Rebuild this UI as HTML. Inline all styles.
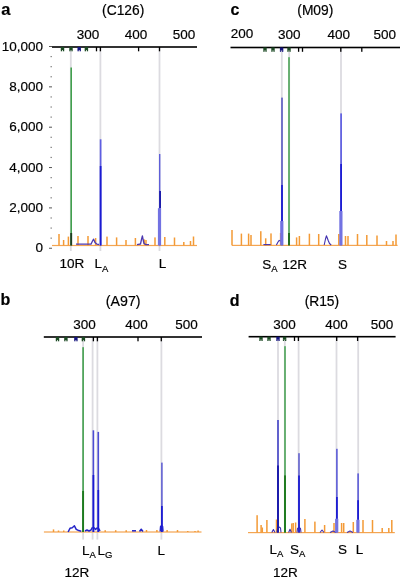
<!DOCTYPE html>
<html><head><meta charset="utf-8"><style>
html,body{margin:0;padding:0;background:#fff;}
svg{display:block;font-family:"Liberation Sans", sans-serif;filter:blur(0.3px);}
text{stroke:#000;stroke-width:0.18px;}
</style></head><body>
<svg width="400" height="580" viewBox="0 0 400 580">
<rect width="400" height="580" fill="#fff"/>
<text x="43.00" y="50.60" font-size="13.5" text-anchor="end">10,000</text>
<rect x="49.00" y="46.00" width="3.00" height="1.00" fill="#555"/>
<text x="43.00" y="90.95" font-size="13.5" text-anchor="end">8,000</text>
<rect x="49.00" y="86.35" width="3.00" height="1.00" fill="#555"/>
<text x="43.00" y="131.30" font-size="13.5" text-anchor="end">6,000</text>
<rect x="49.00" y="126.70" width="3.00" height="1.00" fill="#555"/>
<text x="43.00" y="171.65" font-size="13.5" text-anchor="end">4,000</text>
<rect x="49.00" y="167.05" width="3.00" height="1.00" fill="#555"/>
<text x="43.00" y="212.00" font-size="13.5" text-anchor="end">2,000</text>
<rect x="49.00" y="207.40" width="3.00" height="1.00" fill="#555"/>
<text x="43.00" y="252.35" font-size="13.5" text-anchor="end">0</text>
<rect x="49.00" y="247.75" width="3.00" height="1.00" fill="#555"/>
<rect x="50.60" y="55.99" width="1.10" height="1.20" fill="#606060"/>
<rect x="50.60" y="66.08" width="1.10" height="1.20" fill="#606060"/>
<rect x="50.60" y="76.16" width="1.10" height="1.20" fill="#606060"/>
<rect x="50.60" y="96.34" width="1.10" height="1.20" fill="#606060"/>
<rect x="50.60" y="106.43" width="1.10" height="1.20" fill="#606060"/>
<rect x="50.60" y="116.51" width="1.10" height="1.20" fill="#606060"/>
<rect x="50.60" y="136.69" width="1.10" height="1.20" fill="#606060"/>
<rect x="50.60" y="146.78" width="1.10" height="1.20" fill="#606060"/>
<rect x="50.60" y="156.86" width="1.10" height="1.20" fill="#606060"/>
<rect x="50.60" y="177.04" width="1.10" height="1.20" fill="#606060"/>
<rect x="50.60" y="187.12" width="1.10" height="1.20" fill="#606060"/>
<rect x="50.60" y="197.21" width="1.10" height="1.20" fill="#606060"/>
<rect x="50.60" y="217.39" width="1.10" height="1.20" fill="#606060"/>
<rect x="50.60" y="227.48" width="1.10" height="1.20" fill="#606060"/>
<rect x="50.60" y="237.56" width="1.10" height="1.20" fill="#606060"/>
<rect x="69.90" y="47.00" width="1.80" height="204.00" fill="#dcdbe0"/>
<rect x="99.50" y="47.00" width="1.80" height="204.00" fill="#dcdbe0"/>
<rect x="158.60" y="47.00" width="1.80" height="204.00" fill="#dcdbe0"/>
<rect x="52.00" y="244.90" width="145.00" height="1.20" fill="#f4a552"/>
<rect x="58.25" y="234.00" width="1.50" height="11.50" fill="#f39a36"/>
<rect x="62.85" y="240.00" width="1.50" height="5.50" fill="#f39a36"/>
<rect x="67.65" y="236.60" width="1.50" height="8.90" fill="#f39a36"/>
<rect x="77.25" y="236.00" width="1.50" height="9.50" fill="#f39a36"/>
<rect x="87.25" y="236.00" width="1.50" height="9.50" fill="#f39a36"/>
<rect x="94.85" y="238.00" width="1.50" height="7.50" fill="#f39a36"/>
<rect x="106.25" y="236.60" width="1.50" height="8.90" fill="#f39a36"/>
<rect x="115.85" y="237.40" width="1.50" height="8.10" fill="#f39a36"/>
<rect x="125.25" y="240.00" width="1.50" height="5.50" fill="#f39a36"/>
<rect x="134.65" y="238.00" width="1.50" height="7.50" fill="#f39a36"/>
<rect x="143.65" y="239.40" width="1.50" height="6.10" fill="#f39a36"/>
<rect x="145.25" y="240.00" width="1.50" height="5.50" fill="#f39a36"/>
<rect x="154.25" y="237.40" width="1.50" height="8.10" fill="#f39a36"/>
<rect x="164.05" y="237.00" width="1.50" height="8.50" fill="#f39a36"/>
<rect x="173.75" y="237.50" width="1.50" height="8.00" fill="#f39a36"/>
<rect x="183.05" y="242.00" width="1.50" height="3.50" fill="#f39a36"/>
<rect x="189.75" y="241.00" width="1.50" height="4.50" fill="#f39a36"/>
<rect x="192.75" y="236.50" width="1.50" height="9.00" fill="#f39a36"/>
<path d="M76 244.2 L91 244.2 L92.5 241 L93.6 239.2 L95 242.5 L97 244.2 L99 244.5" stroke="#4c38b0" stroke-width="1.3" fill="none" stroke-linejoin="round"/>
<path d="M137 244.6 L140.5 244 L141.6 239 L142.4 235.8 L143.2 240 L144 243.5 L146 244.6 L149 244.6" stroke="#4c38b0" stroke-width="1.3" fill="none" stroke-linejoin="round"/>
<rect x="70.40" y="67.50" width="1.60" height="178.00" fill="#42a04e"/>
<rect x="70.25" y="233.00" width="1.90" height="12.50" fill="#1e3e20"/>
<rect x="99.75" y="139.30" width="1.70" height="106.20" fill="#5e5ee2"/>
<rect x="99.75" y="166.00" width="1.70" height="79.50" fill="#1a1ad2"/>
<rect x="159.00" y="154.00" width="1.40" height="91.50" fill="#5e5ed8"/>
<rect x="159.25" y="191.00" width="1.70" height="17.20" fill="#1414a8"/>
<rect x="157.90" y="208.20" width="3.20" height="37.30" fill="#7272e2"/>
<rect x="52.00" y="46.20" width="145.00" height="1.60" fill="#000"/>
<rect x="95.85" y="47.00" width="1.30" height="4.30" fill="#000"/>
<rect x="99.75" y="47.00" width="1.30" height="4.30" fill="#000"/>
<rect x="137.95" y="47.00" width="1.30" height="4.30" fill="#000"/>
<rect x="158.85" y="47.00" width="1.30" height="4.30" fill="#000"/>
<rect x="60.80" y="47.00" width="3.40" height="3.00" fill="#1c4a24"/>
<rect x="60.80" y="49.80" width="1.30" height="1.50" fill="#1c4a24"/>
<rect x="62.90" y="49.80" width="1.30" height="1.50" fill="#1c4a24"/>
<rect x="69.30" y="47.00" width="3.40" height="3.00" fill="#1c4a24"/>
<rect x="69.30" y="49.80" width="1.30" height="1.50" fill="#1c4a24"/>
<rect x="71.40" y="49.80" width="1.30" height="1.50" fill="#1c4a24"/>
<rect x="77.50" y="47.00" width="3.40" height="3.00" fill="#14147e"/>
<rect x="77.50" y="49.80" width="1.30" height="1.50" fill="#14147e"/>
<rect x="79.60" y="49.80" width="1.30" height="1.50" fill="#14147e"/>
<rect x="84.70" y="47.00" width="3.40" height="3.00" fill="#1c4a24"/>
<rect x="84.70" y="49.80" width="1.30" height="1.50" fill="#1c4a24"/>
<rect x="86.80" y="49.80" width="1.30" height="1.50" fill="#1c4a24"/>
<text x="1.20" y="14.60" font-size="16.5" font-weight="bold">a</text>
<text x="123.20" y="15.00" font-size="13.8" text-anchor="middle">(C126)</text>
<text x="87.90" y="38.80" font-size="13.5" text-anchor="middle">300</text>
<text x="136.00" y="38.80" font-size="13.5" text-anchor="middle">400</text>
<text x="184.00" y="38.80" font-size="13.5" text-anchor="middle">500</text>
<text x="59.50" y="268.30" font-size="13.5">10R</text>
<text x="94.40" y="268.30" font-size="13.5">L<tspan font-size="9.5" dy="3.2">A</tspan></text>
<text x="158.70" y="268.30" font-size="13.5">L</text>
<rect x="280.90" y="47.50" width="1.80" height="197.90" fill="#dcdbe0"/>
<rect x="288.30" y="47.50" width="1.80" height="197.90" fill="#dcdbe0"/>
<rect x="340.10" y="47.50" width="1.80" height="197.90" fill="#dcdbe0"/>
<rect x="232.00" y="244.80" width="165.60" height="1.20" fill="#f4a552"/>
<rect x="231.25" y="230.00" width="1.50" height="15.40" fill="#f39a36"/>
<rect x="240.65" y="233.60" width="1.50" height="11.80" fill="#f39a36"/>
<rect x="247.85" y="233.60" width="1.50" height="11.80" fill="#f39a36"/>
<rect x="250.25" y="235.00" width="1.50" height="10.40" fill="#f39a36"/>
<rect x="260.05" y="231.20" width="1.50" height="14.20" fill="#f39a36"/>
<rect x="264.95" y="238.30" width="1.50" height="7.10" fill="#f39a36"/>
<rect x="270.25" y="233.40" width="1.50" height="12.00" fill="#f39a36"/>
<rect x="279.85" y="233.00" width="1.50" height="12.40" fill="#f39a36"/>
<rect x="295.85" y="237.40" width="1.50" height="8.00" fill="#f39a36"/>
<rect x="298.65" y="236.00" width="1.50" height="9.40" fill="#f39a36"/>
<rect x="308.65" y="233.70" width="1.50" height="11.70" fill="#f39a36"/>
<rect x="317.95" y="234.00" width="1.50" height="11.40" fill="#f39a36"/>
<rect x="338.05" y="234.00" width="1.50" height="11.40" fill="#f39a36"/>
<rect x="344.75" y="236.00" width="1.50" height="9.40" fill="#f39a36"/>
<rect x="347.25" y="236.00" width="1.50" height="9.40" fill="#f39a36"/>
<rect x="356.75" y="234.00" width="1.50" height="11.40" fill="#f39a36"/>
<rect x="366.05" y="235.00" width="1.50" height="10.40" fill="#f39a36"/>
<rect x="376.25" y="235.50" width="1.50" height="9.90" fill="#f39a36"/>
<rect x="385.75" y="241.00" width="1.50" height="4.40" fill="#f39a36"/>
<rect x="392.25" y="241.00" width="1.50" height="4.40" fill="#f39a36"/>
<rect x="395.25" y="234.50" width="1.50" height="10.90" fill="#f39a36"/>
<path d="M263.4 244.6 L270.7 244.6" stroke="#4030b0" stroke-width="1.1" fill="none" stroke-linejoin="round"/>
<path d="M276.4 245 L278 242 L279.2 240.4 L281 241" stroke="#4030b0" stroke-width="1.1" fill="none" stroke-linejoin="round"/>
<path d="M324.2 245 L325.5 239 L326.4 235.8 L327.3 238 L328.1 240.3 L329.5 243.5 L331.2 245" stroke="#4030b0" stroke-width="1.1" fill="none" stroke-linejoin="round"/>
<rect x="288.25" y="57.20" width="1.50" height="188.20" fill="#42a04e"/>
<rect x="288.05" y="233.00" width="1.90" height="12.40" fill="#1e6a1e"/>
<rect x="281.25" y="97.60" width="1.50" height="147.80" fill="#5050c0"/>
<rect x="281.15" y="185.00" width="1.70" height="36.00" fill="#1a1ad2"/>
<rect x="280.20" y="221.00" width="3.20" height="24.40" fill="#7272e2"/>
<rect x="340.25" y="113.40" width="1.70" height="132.00" fill="#5e5ee2"/>
<rect x="340.25" y="164.00" width="1.70" height="47.00" fill="#1a1ad2"/>
<rect x="339.30" y="211.00" width="3.20" height="34.40" fill="#7272e2"/>
<rect x="230.50" y="46.70" width="169.50" height="1.60" fill="#000"/>
<rect x="297.95" y="47.50" width="1.30" height="4.30" fill="#000"/>
<rect x="301.85" y="47.50" width="1.30" height="4.30" fill="#000"/>
<rect x="340.15" y="47.50" width="1.30" height="4.30" fill="#000"/>
<rect x="361.15" y="47.50" width="1.30" height="4.30" fill="#000"/>
<rect x="263.30" y="47.50" width="3.40" height="3.00" fill="#1c4a24"/>
<rect x="263.30" y="50.30" width="1.30" height="1.50" fill="#1c4a24"/>
<rect x="265.40" y="50.30" width="1.30" height="1.50" fill="#1c4a24"/>
<rect x="271.30" y="47.50" width="3.40" height="3.00" fill="#1c4a24"/>
<rect x="271.30" y="50.30" width="1.30" height="1.50" fill="#1c4a24"/>
<rect x="273.40" y="50.30" width="1.30" height="1.50" fill="#1c4a24"/>
<rect x="279.90" y="47.50" width="3.40" height="3.00" fill="#14147e"/>
<rect x="279.90" y="50.30" width="1.30" height="1.50" fill="#14147e"/>
<rect x="282.00" y="50.30" width="1.30" height="1.50" fill="#14147e"/>
<rect x="287.30" y="47.50" width="3.40" height="3.00" fill="#1c4a24"/>
<rect x="287.30" y="50.30" width="1.30" height="1.50" fill="#1c4a24"/>
<rect x="289.40" y="50.30" width="1.30" height="1.50" fill="#1c4a24"/>
<text x="230.60" y="14.60" font-size="16" font-weight="bold">c</text>
<text x="315.30" y="15.00" font-size="13.8" text-anchor="middle">(M09)</text>
<text x="242.00" y="38.30" font-size="13.5" text-anchor="middle">200</text>
<text x="289.20" y="38.80" font-size="13.5" text-anchor="middle">300</text>
<text x="338.80" y="38.80" font-size="13.5" text-anchor="middle">400</text>
<text x="384.80" y="38.80" font-size="13.5" text-anchor="middle">500</text>
<text x="262.20" y="269.10" font-size="13.5">S<tspan font-size="9.5" dy="2.8">A</tspan></text>
<text x="282.20" y="269.10" font-size="13.5">12R</text>
<text x="338.00" y="269.10" font-size="13.5">S</text>
<rect x="82.20" y="337.00" width="1.80" height="202.60" fill="#dcdbe0"/>
<rect x="91.70" y="337.00" width="1.80" height="202.60" fill="#dcdbe0"/>
<rect x="96.50" y="337.00" width="1.80" height="202.60" fill="#dcdbe0"/>
<rect x="160.50" y="337.00" width="1.80" height="202.60" fill="#dcdbe0"/>
<rect x="43.90" y="531.40" width="157.60" height="1.20" fill="#f4a552"/>
<rect x="52.75" y="529.40" width="1.50" height="2.60" fill="#f39a36"/>
<rect x="57.75" y="530.50" width="1.50" height="1.50" fill="#f39a36"/>
<rect x="63.00" y="530.50" width="1.50" height="1.50" fill="#f39a36"/>
<rect x="104.45" y="530.20" width="1.50" height="1.80" fill="#f39a36"/>
<rect x="114.95" y="530.20" width="1.50" height="1.80" fill="#f39a36"/>
<rect x="125.45" y="530.20" width="1.50" height="1.80" fill="#f39a36"/>
<rect x="145.75" y="530.00" width="1.50" height="2.00" fill="#f39a36"/>
<rect x="156.15" y="530.00" width="1.50" height="2.00" fill="#f39a36"/>
<rect x="166.35" y="530.00" width="1.50" height="2.00" fill="#f39a36"/>
<rect x="176.75" y="530.00" width="1.50" height="2.00" fill="#f39a36"/>
<rect x="187.00" y="531.00" width="1.50" height="1.00" fill="#f39a36"/>
<rect x="194.25" y="531.00" width="1.50" height="1.00" fill="#f39a36"/>
<rect x="197.35" y="530.50" width="1.50" height="1.50" fill="#f39a36"/>
<path d="M68.1 532 L70 528.3 L72.25 527.7 L74.4 525.8 L76.25 529.4 L78.75 530.6 L81.25 531.2" stroke="#2424c8" stroke-width="1.5" fill="none" stroke-linejoin="round"/>
<path d="M85 531 L87 530 L89 531 L91 530 L92 528 L93 527.5" stroke="#2424c8" stroke-width="1.5" fill="none" stroke-linejoin="round"/>
<path d="M94 527.5 L95.5 529.5 L97 528 L99 529 L100 531" stroke="#2424c8" stroke-width="1.5" fill="none" stroke-linejoin="round"/>
<path d="M132 530.8 L136 530.8" stroke="#2424c8" stroke-width="1.5" fill="none" stroke-linejoin="round"/>
<path d="M139.5 531.5 L141.2 529.2 L143 531.5" stroke="#2424c8" stroke-width="1.5" fill="none" stroke-linejoin="round"/>
<path d="M160.2 531.5 L160.6 526.5 L161.6 525.6 L162.6 526.5 L163 531.5" stroke="#2424c8" stroke-width="1.5" fill="none" stroke-linejoin="round"/>
<rect x="82.30" y="347.20" width="1.60" height="184.80" fill="#42a04e"/>
<rect x="82.15" y="491.00" width="1.90" height="41.00" fill="#1e7a1e"/>
<rect x="92.60" y="430.30" width="1.60" height="101.70" fill="#4c4cd4"/>
<rect x="92.55" y="475.00" width="1.70" height="57.00" fill="#1a1ad2"/>
<rect x="97.50" y="431.90" width="1.60" height="100.10" fill="#4c4cd4"/>
<rect x="97.45" y="490.00" width="1.70" height="42.00" fill="#1a1ad2"/>
<rect x="161.15" y="462.60" width="1.50" height="69.40" fill="#5a5ad2"/>
<rect x="161.05" y="506.00" width="1.70" height="26.00" fill="#1a1ad2"/>
<rect x="43.80" y="336.20" width="158.20" height="1.60" fill="#000"/>
<rect x="92.75" y="337.00" width="1.30" height="4.30" fill="#000"/>
<rect x="96.75" y="337.00" width="1.30" height="4.30" fill="#000"/>
<rect x="137.35" y="337.00" width="1.30" height="4.30" fill="#000"/>
<rect x="160.65" y="337.00" width="1.30" height="4.30" fill="#000"/>
<rect x="55.80" y="337.00" width="3.40" height="3.00" fill="#1c4a24"/>
<rect x="55.80" y="339.80" width="1.30" height="1.50" fill="#1c4a24"/>
<rect x="57.90" y="339.80" width="1.30" height="1.50" fill="#1c4a24"/>
<rect x="64.20" y="337.00" width="3.40" height="3.00" fill="#1c4a24"/>
<rect x="64.20" y="339.80" width="1.30" height="1.50" fill="#1c4a24"/>
<rect x="66.30" y="339.80" width="1.30" height="1.50" fill="#1c4a24"/>
<rect x="74.20" y="337.00" width="3.40" height="3.00" fill="#14147e"/>
<rect x="74.20" y="339.80" width="1.30" height="1.50" fill="#14147e"/>
<rect x="76.30" y="339.80" width="1.30" height="1.50" fill="#14147e"/>
<rect x="81.70" y="337.00" width="3.40" height="3.00" fill="#1c4a24"/>
<rect x="81.70" y="339.80" width="1.30" height="1.50" fill="#1c4a24"/>
<rect x="83.80" y="339.80" width="1.30" height="1.50" fill="#1c4a24"/>
<text x="0.40" y="305.20" font-size="16" font-weight="bold">b</text>
<text x="123.20" y="305.60" font-size="14.2" text-anchor="middle">(A97)</text>
<text x="84.50" y="329.20" font-size="13.5" text-anchor="middle">300</text>
<text x="136.50" y="329.20" font-size="13.5" text-anchor="middle">400</text>
<text x="186.50" y="329.20" font-size="13.5" text-anchor="middle">500</text>
<text x="81.90" y="555.00" font-size="13.5">L<tspan font-size="9.5" dy="3.2">A</tspan></text>
<text x="97.40" y="555.00" font-size="13.5">L<tspan font-size="9.5" dy="3.2">G</tspan></text>
<text x="157.50" y="555.00" font-size="13.5">L</text>
<text x="64.50" y="577.00" font-size="13.5">12R</text>
<rect x="277.10" y="336.70" width="1.80" height="195.90" fill="#dcdbe0"/>
<rect x="283.90" y="336.70" width="1.80" height="195.90" fill="#dcdbe0"/>
<rect x="297.70" y="336.70" width="1.80" height="195.90" fill="#dcdbe0"/>
<rect x="335.60" y="336.70" width="1.80" height="195.90" fill="#dcdbe0"/>
<rect x="357.30" y="336.70" width="1.80" height="195.90" fill="#dcdbe0"/>
<rect x="248.00" y="532.00" width="146.80" height="1.20" fill="#f4a552"/>
<rect x="256.35" y="515.20" width="1.50" height="17.40" fill="#f39a36"/>
<rect x="260.35" y="525.00" width="1.50" height="7.60" fill="#f39a36"/>
<rect x="261.55" y="527.50" width="1.50" height="5.10" fill="#f39a36"/>
<rect x="266.15" y="520.00" width="1.50" height="12.60" fill="#f39a36"/>
<rect x="275.75" y="519.50" width="1.50" height="13.10" fill="#f39a36"/>
<rect x="291.05" y="523.40" width="1.50" height="9.20" fill="#f39a36"/>
<rect x="292.45" y="523.00" width="1.50" height="9.60" fill="#f39a36"/>
<rect x="294.85" y="522.50" width="1.50" height="10.10" fill="#f39a36"/>
<rect x="304.15" y="519.00" width="1.50" height="13.60" fill="#f39a36"/>
<rect x="314.15" y="521.60" width="1.50" height="11.00" fill="#f39a36"/>
<rect x="323.85" y="525.00" width="1.50" height="7.60" fill="#f39a36"/>
<rect x="333.25" y="523.00" width="1.50" height="9.60" fill="#f39a36"/>
<rect x="340.85" y="523.00" width="1.50" height="9.60" fill="#f39a36"/>
<rect x="342.95" y="523.00" width="1.50" height="9.60" fill="#f39a36"/>
<rect x="352.55" y="522.00" width="1.50" height="10.60" fill="#f39a36"/>
<rect x="362.25" y="520.00" width="1.50" height="12.60" fill="#f39a36"/>
<rect x="371.75" y="520.00" width="1.50" height="12.60" fill="#f39a36"/>
<rect x="381.45" y="528.00" width="1.50" height="4.60" fill="#f39a36"/>
<rect x="388.05" y="528.00" width="1.50" height="4.60" fill="#f39a36"/>
<rect x="391.05" y="520.00" width="1.50" height="12.60" fill="#f39a36"/>
<path d="M271.8 532.5 L273.4 529.6 L275 532.5" stroke="#4030b0" stroke-width="1.1" fill="none" stroke-linejoin="round"/>
<path d="M288.6 532.5 L290 529.2 L291.4 532.5" stroke="#4030b0" stroke-width="1.1" fill="none" stroke-linejoin="round"/>
<path d="M277 532.5 L277.5 528 L279 527 L280.5 528 L281 532.5" stroke="#4030b0" stroke-width="1.1" fill="none" stroke-linejoin="round"/>
<path d="M297 532.5 L297.5 528.5 L299 527.5 L300.5 528.5 L301 532.5" stroke="#4030b0" stroke-width="1.1" fill="none" stroke-linejoin="round"/>
<path d="M320 532.5 L322 530 L324 532.5" stroke="#4030b0" stroke-width="1.1" fill="none" stroke-linejoin="round"/>
<path d="M330 532.5 L333 531 L336 532.5" stroke="#4030b0" stroke-width="1.1" fill="none" stroke-linejoin="round"/>
<path d="M347 532.5 L350 531 L353 532.5" stroke="#4030b0" stroke-width="1.1" fill="none" stroke-linejoin="round"/>
<rect x="284.25" y="346.20" width="1.50" height="186.40" fill="#42a04e"/>
<rect x="284.05" y="475.40" width="1.90" height="57.20" fill="#1e7a1e"/>
<rect x="277.20" y="420.00" width="1.60" height="112.60" fill="#4242c8"/>
<rect x="277.00" y="465.50" width="2.00" height="67.10" fill="#1c1cac"/>
<rect x="298.35" y="453.20" width="1.30" height="79.40" fill="#4242c8"/>
<rect x="298.15" y="475.50" width="1.70" height="57.10" fill="#1a1ad2"/>
<rect x="336.20" y="448.80" width="1.40" height="83.80" fill="#4a4ad6"/>
<rect x="336.05" y="497.00" width="1.70" height="21.80" fill="#1a1ad2"/>
<rect x="335.10" y="518.80" width="3.20" height="13.80" fill="#7272e2"/>
<rect x="357.40" y="473.40" width="1.40" height="59.20" fill="#4a4ad6"/>
<rect x="357.25" y="500.20" width="1.70" height="19.60" fill="#1a1ad2"/>
<rect x="356.30" y="519.80" width="3.20" height="12.80" fill="#7272e2"/>
<rect x="248.60" y="335.90" width="147.00" height="1.60" fill="#000"/>
<rect x="293.85" y="336.70" width="1.30" height="4.30" fill="#000"/>
<rect x="297.75" y="336.70" width="1.30" height="4.30" fill="#000"/>
<rect x="336.05" y="336.70" width="1.30" height="4.30" fill="#000"/>
<rect x="356.95" y="336.70" width="1.30" height="4.30" fill="#000"/>
<rect x="259.30" y="336.70" width="3.40" height="3.00" fill="#1c4a24"/>
<rect x="259.30" y="339.50" width="1.30" height="1.50" fill="#1c4a24"/>
<rect x="261.40" y="339.50" width="1.30" height="1.50" fill="#1c4a24"/>
<rect x="267.30" y="336.70" width="3.40" height="3.00" fill="#1c4a24"/>
<rect x="267.30" y="339.50" width="1.30" height="1.50" fill="#1c4a24"/>
<rect x="269.40" y="339.50" width="1.30" height="1.50" fill="#1c4a24"/>
<rect x="276.30" y="336.70" width="3.40" height="3.00" fill="#14147e"/>
<rect x="276.30" y="339.50" width="1.30" height="1.50" fill="#14147e"/>
<rect x="278.40" y="339.50" width="1.30" height="1.50" fill="#14147e"/>
<rect x="282.90" y="336.70" width="3.40" height="3.00" fill="#1c4a24"/>
<rect x="282.90" y="339.50" width="1.30" height="1.50" fill="#1c4a24"/>
<rect x="285.00" y="339.50" width="1.30" height="1.50" fill="#1c4a24"/>
<text x="229.70" y="306.00" font-size="16" font-weight="bold">d</text>
<text x="321.90" y="305.90" font-size="13.8" text-anchor="middle">(R15)</text>
<text x="284.40" y="329.20" font-size="13.5" text-anchor="middle">300</text>
<text x="336.40" y="329.20" font-size="13.5" text-anchor="middle">400</text>
<text x="382.00" y="329.20" font-size="13.5" text-anchor="middle">500</text>
<text x="269.40" y="553.60" font-size="13.5">L<tspan font-size="9.5" dy="3.2">A</tspan></text>
<text x="290.00" y="554.10" font-size="13.5">S<tspan font-size="9.5" dy="3.2">A</tspan></text>
<text x="337.90" y="554.00" font-size="13.5">S</text>
<text x="355.70" y="553.90" font-size="13.5">L</text>
<text x="273.10" y="577.10" font-size="13.5">12R</text>
</svg>
</body></html>
